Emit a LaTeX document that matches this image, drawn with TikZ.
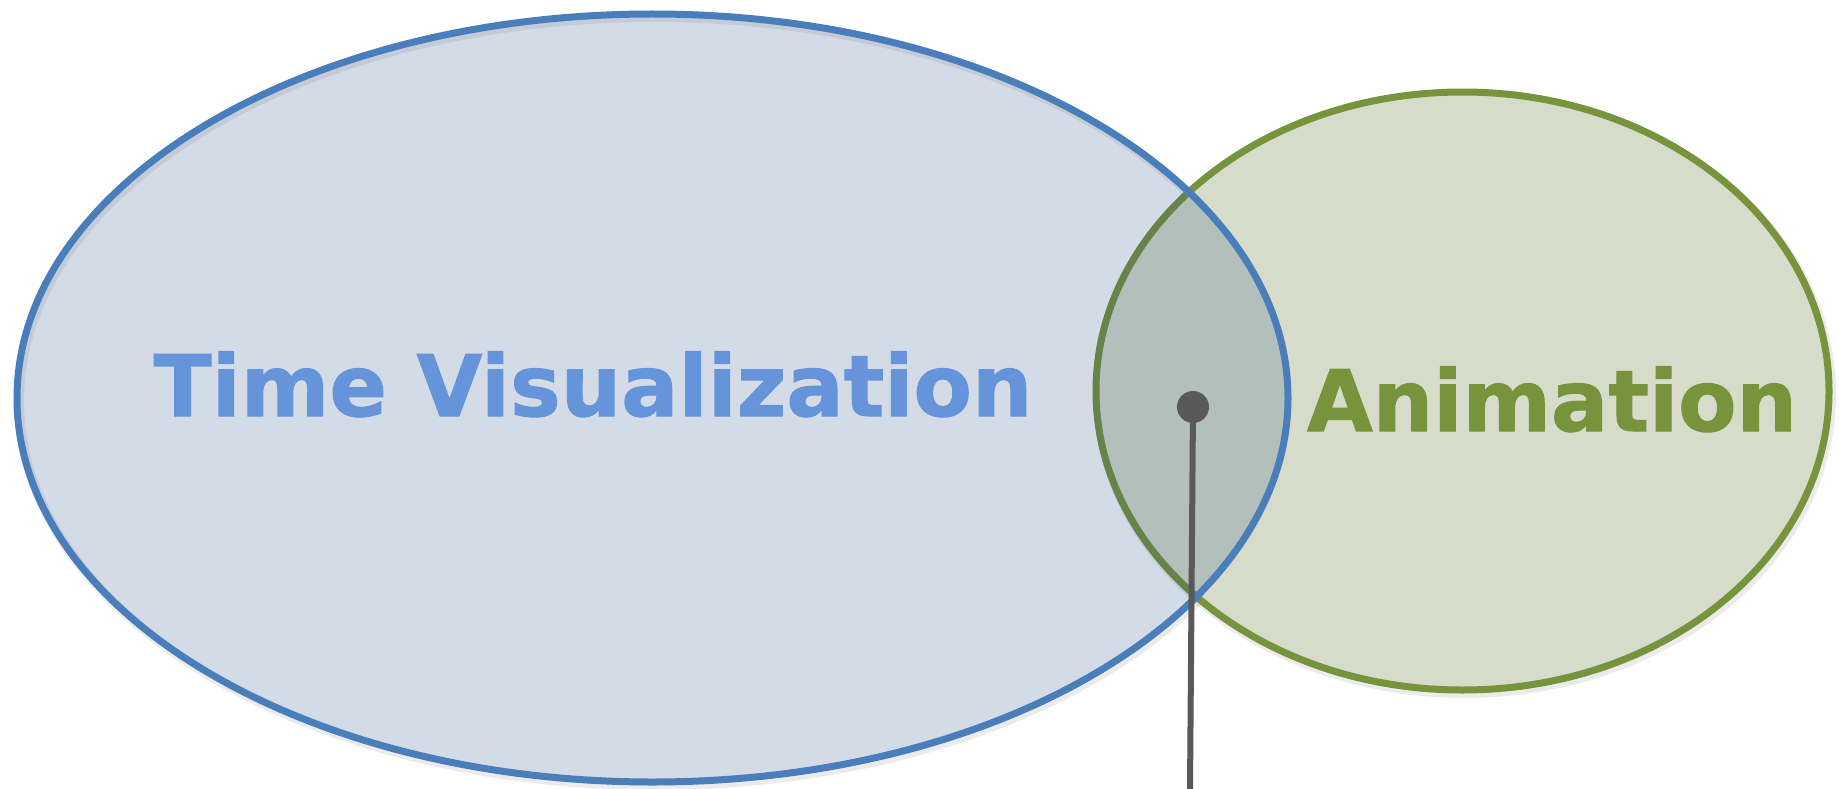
\documentclass[tikz,border=0pt]{standalone}
\usepackage{fontspec}
\setmainfont{DejaVu Sans}
\newfontfamily\labelfont[FakeBold=1.2]{DejaVu Sans Bold}
\usetikzlibrary{shapes.geometric}
\definecolor{bluefillc}{RGB}{35,75,130}
\definecolor{blueline}{RGB}{74,126,187}
\definecolor{bluetext}{RGB}{102,148,219}
\definecolor{greenfill}{RGB}{215,220,202}
\definecolor{greenline}{RGB}{119,147,60}
\definecolor{dotgray}{RGB}{89,89,89}
\tikzset{
  setshape/.style={ellipse, inner sep=0pt, line width=7pt},
  shadowshape/.style={ellipse, inner sep=0pt, line width=10pt, draw=black, draw opacity=0.08},
  label/.style={inner sep=0pt, font=\labelfont\fontsize{85}{100}\selectfont},
  pin/.style={circle, fill=dotgray, inner sep=0pt, minimum size=32pt},
  pinline/.style={draw=dotgray, line width=6pt}
}
\begin{document}
\begin{tikzpicture}[x=1pt,y=-1pt]
\useasboundingbox (0,0) rectangle (1839,789);
% shadows
\node[shadowshape, minimum width=733pt, minimum height=598pt] at (1464.5,394) {};
\node[shadowshape, minimum width=1271pt, minimum height=768pt] at (654.5,401) {};
% green set
\node[setshape, draw=greenline, fill=greenfill, minimum width=733pt, minimum height=598pt] (anim) at (1462.5,391) {};
% blue set
\node[setshape, draw=blueline, fill=bluefillc, fill opacity=0.2, minimum width=1271pt, minimum height=768pt] (timevis) at (652.5,398) {};
% labels
\node[label, text=bluetext, anchor=base] (tvlabel) at (593,416) {Time Visualization};
\node[label, text=greenline, anchor=base] (anlabel) at (1552,431) {Animation};
% pin
\node[pin] (dot) at (1193,407) {};
\coordinate (pinend) at (1190,789);
\draw[pinline] (dot.center) -- (pinend);
\end{tikzpicture}
\end{document}
